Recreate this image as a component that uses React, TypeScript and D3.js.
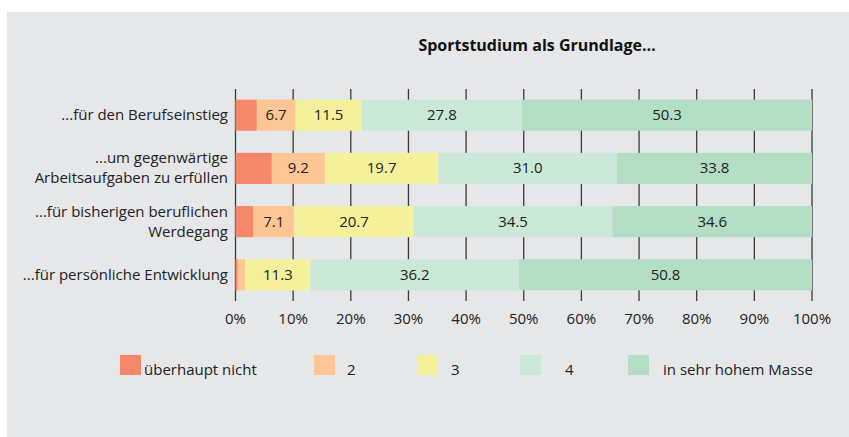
import React from "react";
import * as d3 from "d3";

const categories: string[][] = [
  ["...für den Berufseinstieg"],
  ["...um gegenwärtige", "Arbeitsaufgaben zu erfüllen"],
  ["...für bisherigen beruflichen", "Werdegang"],
  ["...für persönliche Entwicklung"],
];
const seriesNames = ["überhaupt nicht", "2", "3", "4", "in sehr hohem Masse"];
const seriesColors = ["#F6876A", "#FDC694", "#F5F19B", "#CAE7D7", "#B4DEC4"];
const s1 = [3.7, 6.3, 3.1, 0.4];
const s2 = [6.7, 9.2, 7.1, 1.3];
const s3 = [11.5, 19.7, 20.7, 11.3];
const s4 = [27.8, 31.0, 34.5, 36.2];
const s5 = [50.3, 33.8, 34.6, 50.8];
const tickValues = [0, 10, 20, 30, 40, 50, 60, 70, 80, 90, 100];
const title = "Sportstudium als Grundlage…";

const W = 849;
const H = 437;
const FONT = "'Open Sans', 'Noto Sans', sans-serif";

export default function App() {
  const series = [s1, s2, s3, s4, s5];
  const x = d3.scaleLinear().domain([0, 100]).range([235.5, 812]);
  const y = d3
    .scaleBand<number>()
    .domain(categories.map((_, i) => i))
    .range([89, 301])
    .paddingInner(0.415)
    .paddingOuter(0.2);
  const stacked = categories.map((_, i) => {
    let acc = 0;
    return series.map((s, k) => {
      const v = s[i];
      const r = { k, x0: acc, x1: acc + v, v };
      acc += v;
      return r;
    });
  });
  const legendX = [120, 314, 417, 520, 628];
  const legendTextX = [144, 347, 451, 565, 663];
  return (
    <svg
      width={W}
      height={H}
      style={{ position: "absolute", left: 0, top: 0, display: "block" }}
    >
      <rect x={0} y={0} width={W} height={H} fill="#ffffff" />
      <rect x={7} y={12} width={W - 7} height={H - 12} fill="#E6E7E9" />
      <text
        x={537}
        y={51}
        textAnchor="middle"
        fontFamily={FONT}
        fontWeight="bold"
        fontSize={16}
        fill="#111"
      >
        {title}
      </text>
      {tickValues.map((t) => (
        <line
          key={t}
          x1={x(t)}
          x2={x(t)}
          y1={89}
          y2={301}
          stroke="#3a3a3a"
          strokeWidth={1.3}
        />
      ))}
      {tickValues.map((t) => (
        <text
          key={"t" + t}
          x={x(t)}
          y={324}
          textAnchor="middle"
          fontFamily={FONT}
          fontSize={15}
          fill="#222"
        >
          {t + "%"}
        </text>
      ))}
      {stacked.map((row, i) => (
        <g key={i}>
          {row.map((seg) => (
            <rect
              key={seg.k}
              x={x(seg.x0)}
              y={y(i)!}
              width={x(seg.x1) - x(seg.x0)}
              height={y.bandwidth()}
              fill={seriesColors[seg.k]}
            />
          ))}
          {row
            .filter((seg) => seg.v >= 6.5)
            .map((seg) => (
              <text
                key={"l" + seg.k}
                x={(x(seg.x0) + x(seg.x1)) / 2}
                y={y(i)! + y.bandwidth() / 2 + 5}
                textAnchor="middle"
                fontFamily={FONT}
                fontSize={15}
                fill="#222"
              >
                {seg.v.toFixed(1)}
              </text>
            ))}
          {categories[i].map((line, li) => {
            const n = categories[i].length;
            const cy = y(i)! + y.bandwidth() / 2;
            return (
              <text
                key={"c" + li}
                x={228}
                y={cy + 5 + (li - (n - 1) / 2) * 20}
                textAnchor="end"
                fontFamily={FONT}
                fontSize={15}
                fill="#222"
              >
                {line}
              </text>
            );
          })}
        </g>
      ))}
      {seriesNames.map((name, k) => (
        <g key={"lg" + k}>
          <rect
            x={legendX[k]}
            y={355}
            width={21}
            height={20}
            fill={seriesColors[k]}
          />
          <text
            x={legendTextX[k]}
            y={375}
            fontFamily={FONT}
            fontSize={15}
            fill="#222"
          >
            {name}
          </text>
        </g>
      ))}
    </svg>
  );
}
